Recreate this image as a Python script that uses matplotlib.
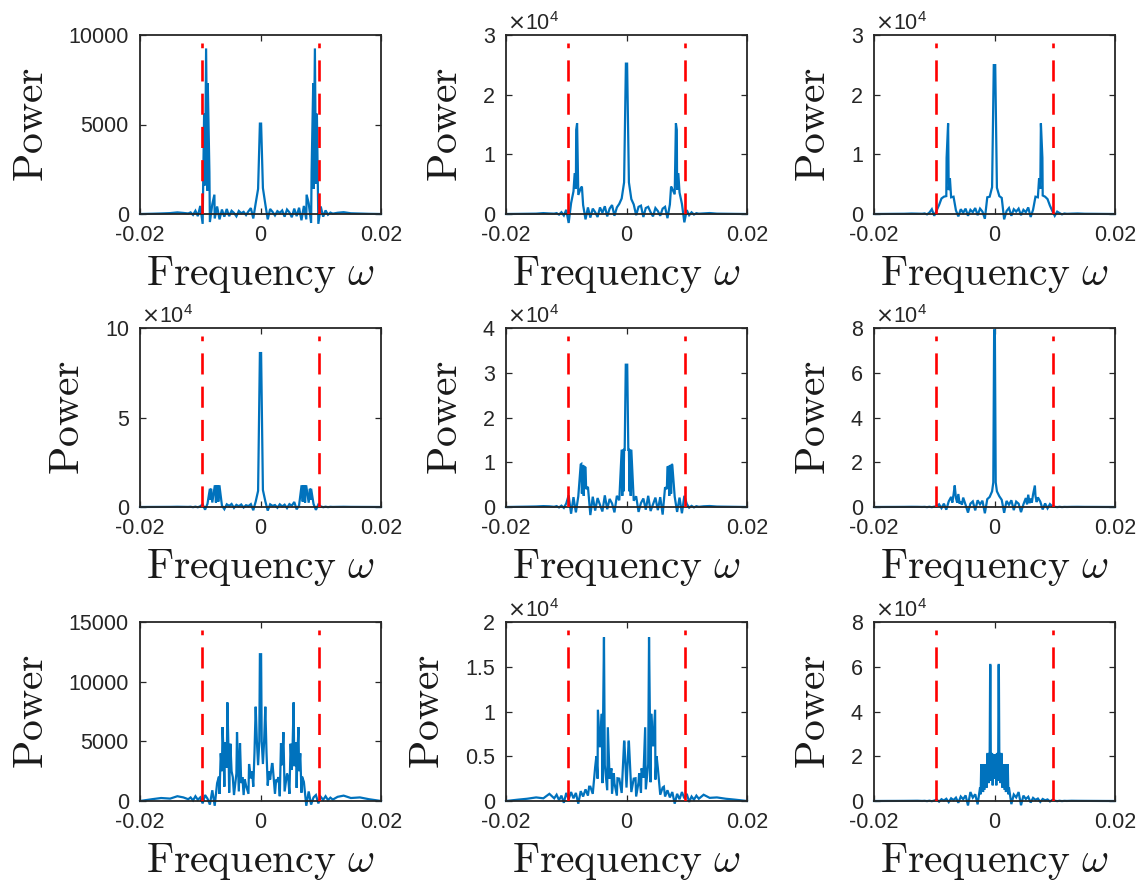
import numpy as np
import matplotlib
matplotlib.use('Agg')
import matplotlib.pyplot as plt
from matplotlib.ticker import FuncFormatter

# frequency bins used for the broadband part of every spectrum
F_GRID = [
    -0.0200, -0.0180, -0.0165, -0.0150, -0.0138, -0.0128,
    -0.0120, -0.0116, -0.0112, -0.0108, -0.0104, -0.0100, -0.0096, -0.0092, -0.0088, -0.0084,
    -0.0080, -0.0076, -0.0072, -0.0068, -0.0064, -0.0060, -0.0056, -0.0052, -0.0048, -0.0044,
    -0.0040, -0.0036, -0.0032, -0.0028, -0.0024, -0.0020, -0.0016, -0.0012, -0.0008, -0.0004,
    0.0000,
    0.0004, 0.0008, 0.0012, 0.0016, 0.0020, 0.0024, 0.0028, 0.0032, 0.0036, 0.0040,
    0.0044, 0.0048, 0.0052, 0.0056, 0.0060, 0.0064, 0.0068, 0.0072, 0.0076, 0.0080,
    0.0084, 0.0088, 0.0092, 0.0096, 0.0100, 0.0104, 0.0108, 0.0112, 0.0116, 0.0120,
    0.0128, 0.0138, 0.0150, 0.0165, 0.0180, 0.0200,
]

CUTOFF = 0.0097   # red dashed band limits (+/-)

# ---- panel 1 ----
p1_noise = [
    0, 15, 30, 50, 90, 60,
    30, 90, -50, 180, -120, 450, -550, 1600, 1300, -450,
    550, -250, 420, -300, 250, -150, 280, -120, 180, 60,
    -130, 170, 40, 120, -60, 150, 330, -250, 600, 1400,
    5050,
    1450, 550, -300, 280, 120, -80, 160, 60, 200, -150,
    250, 90, -180, 300, -120, 350, -350, 450, -300, 600,
    -500, 1400, 1700, -550, 420, -150, 200, -40, 80, 20,
    70, 100, 40, 25, 10, 0,
]
p1_peak_f = [-0.00936, -0.00903, -0.00875, -0.00848, -0.00765, -0.0001,
             0.0001, 0.00765, 0.00848, 0.00875, 0.00903, 0.00936]
p1_peak_p = [5600, 9250, 7300, 2340, 1080, 5050, 5050, 1080, 2340, 7300, 9250, 5600]

# ---- panel 2 ----
p2_noise = [
    0, 20, 40, 60, 150, 90,
    60, 150, -100, 300, -250, 700, -1500, 1800, 3800, 4200,
    3200, 4300, 1500, -900, 1100, -600, 900, 300, -500, 1100,
    200, 1300, -400, 900, 1500, -300, 1100, 1700, 2600, 5300,
    25200,
    5300, 2500, 1600, -200, 1200, 1400, -500, 1000, 1200, 300,
    -400, 1000, 500, -300, 900, 1200, -700, 1600, 4200, 3300,
    4100, 3600, 1700, -1400, 650, -200, 280, -90, 140, 50,
    100, 160, 60, 40, 20, 0,
]
p2_peak_f = [-0.0086, -0.00835, -0.0082, -0.0074, -0.0001,
             0.0001, 0.0074, 0.0082, 0.00835, 0.0086]
p2_peak_p = [6850, 14100, 15200, 4600, 25200, 25200, 4600, 15200, 14100, 6850]

# ---- panel 3 ----
p3_noise = [
    0, 15, 30, 40, 80, 60,
    40, 100, -60, 250, 800, -300, 600, 1500, 2600, 2900,
    3000, 4000, 2800, 2900, 600, -400, 800, 200, 900, -300,
    700, 300, 1000, -200, 900, 400, -800, 2800, 2900, 4500,
    24950,
    4400, 3000, 2700, -900, 500, 1000, -300, 800, 400, 900,
    -200, 700, 300, 1100, -500, 700, 2900, 2800, 4200, 3100,
    2900, 2500, 1400, 500, -300, 400, 150, -60, 90, 30,
    60, 90, 40, 30, 15, 0,
]
p3_peak_f = [-0.00795, -0.0077, -0.0074, -0.00012, 0.00012, 0.0074, 0.0077, 0.00795]
p3_peak_p = [9400, 15200, 6000, 24950, 24950, 6000, 15200, 9400]

# ---- panel 4 ----
p4_noise = [
    0, 40, 60, 80, 150, 100,
    50, 150, -100, 200, -150, 400, 1500, -1500, 1800, 10200,
    2500, 11600, 11600, 11600, 800, -1200, 1500, 600, 1700, -500,
    1200, 400, 1400, -300, 1000, 500, 1600, -1800, 3000, 9000,
    86000,
    9500, 3200, -2000, 1500, 600, 1100, -400, 1500, 300, 1300,
    -600, 1600, 700, 2800, -1300, 900, 11600, 11600, 11600, 2400,
    10200, 1700, -1600, 1400, 350, -120, 180, -80, 120, 40,
    90, 140, 70, 50, 30, 0,
]
p4_peak_f = [-0.0083, -0.0082, -0.0075, -0.0074, -0.0073, -0.0071, -0.0070, -0.0069,
             -0.0001, 0.0001,
             0.0069, 0.0070, 0.0071, 0.0073, 0.0074, 0.0075, 0.0082, 0.0083]
p4_peak_p = [4000, 10200, 11600, 2500, 11600, 11600, 3000, 11600,
             86000, 86000,
             11600, 3000, 11600, 11600, 2500, 11600, 10200, 4000]

# ---- panel 5 ----
p5_noise = [
    0, 50, 80, 120, 200, 150,
    50, 200, -100, 300, -200, 800, 2600, -1500, 2200, -1200,
    2400, 9500, 9000, 8800, 4500, -1800, 2300, -800, 2000, 500,
    -1000, 2600, -500, 1800, 800, -1200, 2500, 1500, 12800, 12800,
    31800,
    12800, 12800, 1400, 2400, -1100, 900, 1900, -600, 2500, -900,
    600, 2100, -700, 2200, -1700, 4400, 8900, 9100, 9400, 2300,
    -1100, 2100, -1400, 2500, 700, -150, 250, -80, 180, 40,
    160, 220, 100, 70, 40, 0,
]
p5_peak_f = [-0.0075, -0.0074, -0.0073, -0.0071, -0.0070, -0.0067,
             -0.0007, -0.0006, -0.0005, -0.0003, -0.00012,
             0.00012, 0.0003, 0.0005, 0.0006, 0.0007,
             0.0067, 0.0070, 0.0071, 0.0073, 0.0074, 0.0075]
p5_peak_p = [9600, 3000, 9300, 2500, 9000, 4000,
             2500, 12800, 3500, 12800, 31800,
             31800, 12800, 3500, 12800, 2500,
             4000, 9000, 2500, 9300, 3000, 9600]

# ---- panel 6 ----
p6_noise = [
    0, 30, 40, 60, 100, 80,
    30, 80, -50, 120, -80, 150, 300, 1200, -500, 1500,
    -1200, 2500, 4500, 5500, 4000, 5800, 2500, 4200, 1000, -2500,
    1500, 2500, -1500, 3000, 1200, 2800, -2800, 3500, 4500, 7000,
    79000,
    7000, 4800, 3200, -2600, 2700, 1000, 3000, -1400, 2400, 1500,
    -2300, 1200, 4000, 5500, 3800, 5600, 5000, 4300, 2400, -1100,
    1600, -600, 1300, 250, 120, -60, 100, -40, 60, 20,
    70, 90, 50, 40, 20, 0,
]
p6_peak_f = [-0.0070, -0.0066, -0.0062, -0.0058, -0.0054, -0.0002, -0.00006,
             0.00006, 0.0002, 0.0054, 0.0058, 0.0062, 0.0067, 0.0070]
p6_peak_p = [2000, 9600, 2000, 1500, 1000, 11000, 79000,
             79000, 11000, 1200, 1700, 2000, 9600, 2200]

# ---- panel 7 ----
p7_noise = [
    0, 150, 250, 200, 400, 300,
    150, 300, 50, 400, 100, 300, -200, 500, 200, -300,
    900, -400, 1500, 600, 2500, 1200, 2800, 700, 2500, 500,
    2300, 800, 1500, 500, 1300, 600, 1900, 1200, 7900, 3000,
    12300,
    3100, 7900, 1300, 1800, 3100, 600, 1700, 400, 3000, 800,
    2300, 600, 2600, 3000, 1100, 2500, 700, 1600, -400, 800,
    -300, 300, 500, -200, 350, 100, 400, 80, 280, 120,
    350, 450, 250, 300, 150, 0,
]
p7_peak_f = [-0.0069, -0.0066, -0.0063, -0.0061, -0.0059, -0.0057, -0.0055, -0.0053,
             -0.0050, -0.0046, -0.0039, -0.0034, -0.0030, -0.0026, -0.0019, -0.0014,
             -0.0010, -0.0006, -0.0002, -0.0001,
             0.0001, 0.0002, 0.0006, 0.0010, 0.0014, 0.0019, 0.0026, 0.0030,
             0.0034, 0.0038, 0.0046, 0.0050, 0.0053, 0.0055, 0.0057, 0.0059,
             0.0061, 0.0063, 0.0066, 0.0069]
p7_peak_p = [2040, 4000, 6190, 3500, 4900, 3000, 8260, 4000,
             4800, 2000, 5770, 4840, 2000, 1800, 3100, 2500,
             4000, 5000, 5000, 12300,
             12300, 5000, 5000, 4000, 2500, 3100, 1800, 2000,
             4840, 5770, 2000, 4800, 4000, 8260, 3000, 4900,
             3500, 6190, 4000, 2040]

# ---- panel 8 ----
p8_noise = [
    0, 150, 250, 400, 300, 800,
    300, 700, 100, 600, -200, 900, 200, 1000, 300, 900,
    -300, 1100, 500, 1300, 600, 1600, 800, 3800, 2500, 6000,
    2000, 4000, 1200, 2500, 800, 2000, 600, 2500, 900, 6640,
    1500,
    6640, 1000, 2500, 500, 2100, 900, 2600, 1300, 4100, 2100,
    6100, 2400, 3700, 700, 1500, 500, 1200, 400, 1000, -300,
    800, 200, 1000, 300, 800, -100, 500, 150, 600, 250,
    700, 350, 400, 250, 150, 0,
]
p8_peak_f = [-0.0062, -0.0050, -0.00475, -0.0041, -0.00374, -0.0031, -0.0025, -0.0021,
             -0.0015, -0.00035,
             0.00035, 0.0015, 0.0021, 0.0025, 0.0031, 0.00374, 0.0041, 0.00475,
             0.0050, 0.0062]
p8_peak_p = [1600, 5000, 10200, 9740, 18300, 8240, 3650, 3100,
             2540, 6640,
             6640, 2540, 3100, 3650, 8240, 18300, 9740, 10200,
             5000, 1600]

# ---- panel 9 ----
p9_noise = [
    0, 30, 40, 60, 90, 120,
    30, 100, -50, 150, -80, 200, 600, -300, 800, 200,
    1000, -500, 1200, 400, 1500, -800, 2000, 800, 2500, -2000,
    4000, 1500, 3000, -1500, 6000, 16500, 16500, 21000, 21000, 21000,
    18000,
    21000, 21000, 21000, 16500, 16500, 6000, -1400, 2900, 1600, 4000,
    -1900, 2400, 900, 1900, -700, 1400, 500, 1100, -400, 900,
    300, 700, -200, 500, 150, -60, 120, -40, 80, 30,
    110, 80, 60, 40, 20, 0,
]
p9_peak_f = [-0.0023, -0.0022, -0.0021, -0.0019, -0.0018, -0.0017, -0.0015, -0.0014,
             -0.0013, -0.0011, -0.0010, -0.0009, -0.00072, -0.00068, -0.0006, -0.0005,
             -0.0003, -0.0002, -0.0001,
             0.0001, 0.0002, 0.0003, 0.0005, 0.0006, 0.00068, 0.00072, 0.0009,
             0.0010, 0.0011, 0.0013, 0.0014, 0.0015, 0.0017, 0.0018, 0.0019,
             0.0021, 0.0022, 0.0023]
p9_peak_p = [3000, 16500, 5000, 4000, 16500, 5000, 7000, 16500,
             6000, 21000, 8000, 21000, 60800, 60800, 9000, 21000,
             7000, 21000, 10000,
             10000, 21000, 7000, 21000, 9000, 60800, 60800, 21000,
             8000, 21000, 6000, 16500, 7000, 5000, 16500, 4000,
             5000, 16500, 3000]

# y ticks and whether the axis carries a x10^4 multiplier
p_yticks = [
    [0, 5000, 10000],
    [0, 10000, 20000, 30000],
    [0, 10000, 20000, 30000],
    [0, 50000, 100000],
    [0, 10000, 20000, 30000, 40000],
    [0, 20000, 40000, 60000, 80000],
    [0, 5000, 10000, 15000],
    [0, 5000, 10000, 15000, 20000],
    [0, 20000, 40000, 60000, 80000],
]
p_sci = [False, True, True, True, True, True, False, True, True]
x_ticks = [-0.02, 0, 0.02]

panels = [
    (p1_noise, p1_peak_f, p1_peak_p),
    (p2_noise, p2_peak_f, p2_peak_p),
    (p3_noise, p3_peak_f, p3_peak_p),
    (p4_noise, p4_peak_f, p4_peak_p),
    (p5_noise, p5_peak_f, p5_peak_p),
    (p6_noise, p6_peak_f, p6_peak_p),
    (p7_noise, p7_peak_f, p7_peak_p),
    (p8_noise, p8_peak_f, p8_peak_p),
    (p9_noise, p9_peak_f, p9_peak_p),
]

BLUE = '#0072BD'
AXC = '#262626'
W, H = 1145, 883
lefts = [140, 506, 874]
tops = [35, 328, 622]
aw, ah = 241, 179

fig = plt.figure(figsize=(W / 100, H / 100), dpi=100)

for k, (noise, pk_f, pk_p) in enumerate(panels):
    assert len(noise) == len(F_GRID)
    r, c = divmod(k, 3)
    ax = fig.add_axes([lefts[c] / W, 1 - (tops[r] + ah) / H, aw / W, ah / H])

    f = np.concatenate([F_GRID, pk_f])
    p = np.concatenate([noise, pk_p])
    order = np.argsort(f, kind='stable')
    ax.plot(f[order], p[order], color=BLUE, lw=1.6, clip_on=False, zorder=2,
            solid_joinstyle='miter')

    yt = p_yticks[k]
    ymax = yt[-1]
    for xc in (-CUTOFF, CUTOFF):
        ax.plot([xc, xc], [0, 0.955 * ymax], color='red', lw=1.9,
                dashes=(8.0, 4.6), zorder=3)

    ax.set_xlim(-0.02, 0.02)
    ax.set_ylim(0, ymax)
    ax.set_xticks(x_ticks)
    ax.set_yticks(yt)
    scale = 1e4 if p_sci[k] else 1
    ax.xaxis.set_major_formatter(FuncFormatter(lambda v, pos: '%g' % v))
    ax.yaxis.set_major_formatter(FuncFormatter(lambda v, pos, s=scale: '%g' % (v / s)))
    ax.tick_params(direction='in', top=True, right=True, length=4, width=0.9,
                   labelsize=15.5, colors=AXC, pad=8)
    for lab in ax.get_xticklabels() + ax.get_yticklabels():
        lab.set_family('Liberation Sans')
    for sp in ax.spines.values():
        sp.set_color(AXC)
        sp.set_linewidth(1.3)

    if p_sci[k]:
        ax.text(0.005, 1.0, r'$\times\mathdefault{10^{4}}$', transform=ax.transAxes,
                ha='left', va='bottom', fontsize=15.5, color=AXC,
                family='Liberation Sans', math_fontfamily='dejavusans')

    ax.set_xlabel(r'$\mathrm{Frequency}\ \omega$', fontsize=30,
                  math_fontfamily='cm', color='#1a1a1a', labelpad=5)
    ax.set_ylabel(r'$\mathrm{Power}$', fontsize=30,
                  math_fontfamily='cm', color='#1a1a1a', labelpad=12)

fig.savefig('out.png', dpi=100)
